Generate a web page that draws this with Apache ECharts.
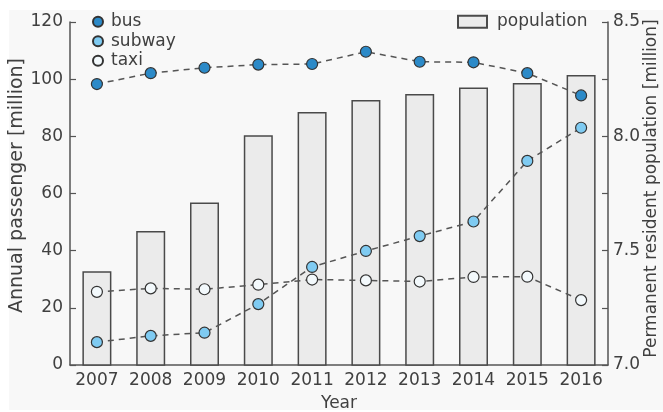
<!DOCTYPE html>
<html>
<head>
<meta charset="utf-8">
<script src="https://cdn.jsdelivr.net/npm/echarts@6/dist/echarts.min.js"></script>
<style>
  html, body { margin: 0; padding: 0; background: #ffffff; }
  #panel { position: absolute; left: 9px; top: 10px; width: 654px; height: 400px; background: #f8f8f8; }
  #chart { position: absolute; left: 0; top: 0; width: 663px; height: 412px; }
</style>
</head>
<body>
<div id="panel"></div>
<div id="chart"></div>
<script>
// Yearly ridership (million passengers) and resident population (million)
const years = ['2007', '2008', '2009', '2010', '2011', '2012', '2013', '2014', '2015', '2016'];
const bus = [98.3, 102.1, 104.0, 105.1, 105.3, 109.6, 106.1, 105.9, 102.1, 94.3];
const subway = [8.0, 10.2, 11.3, 21.3, 34.3, 39.9, 45.1, 50.2, 71.4, 83.0];
const taxi = [25.6, 26.8, 26.5, 28.1, 29.9, 29.6, 29.2, 30.8, 30.9, 22.7];
const population = [7.41, 7.586, 7.711, 8.005, 8.106, 8.159, 8.185, 8.214, 8.233, 8.268];

const FONT = 'DejaVu Sans';
const FS = 17;
const TXT = '#404040';
const AX = '#555555';

const chart = echarts.init(document.getElementById('chart'));

function lineSeries(name, data, color) {
  return {
    name: name,
    type: 'line',
    yAxisIndex: 0,
    data: data,
    symbol: 'circle',
    symbolSize: 11,
    z: 5,
    itemStyle: { color: color, borderColor: '#333333', borderWidth: 1.2 },
    lineStyle: { color: '#555555', width: 1.5, type: [6, 5] }
  };
}

chart.setOption({
  animation: false,
  backgroundColor: 'transparent',
  textStyle: { fontFamily: FONT },
  grid: { left: 70, right: 55, top: 22, bottom: 47, outerBoundsMode: 'none', containLabel: false },
  legend: [
    {
      data: ['bus', 'subway', 'taxi'],
      orient: 'vertical',
      left: 92,
      top: 12,
      padding: 0,
      icon: 'circle',
      itemWidth: 10,
      itemHeight: 10,
      itemGap: 0,
      textStyle: { fontFamily: FONT, fontSize: FS, color: TXT, lineHeight: 19.5, padding: [0, 0, 0, 3] }
    },
    {
      data: ['population'],
      left: 457,
      top: 12,
      padding: 0,
      icon: 'rect',
      itemWidth: 29,
      itemHeight: 12,
      textStyle: { fontFamily: FONT, fontSize: FS, color: TXT, lineHeight: 19.5, padding: [0, 0, 0, 5] }
    }
  ],
  xAxis: {
    type: 'category',
    data: years,
    name: 'Year',
    nameLocation: 'middle',
    nameGap: 30,
    nameMoveOverlap: false,
    nameTextStyle: { fontFamily: FONT, fontSize: FS, color: TXT },
    axisLine: { lineStyle: { color: AX, width: 1.5 } },
    axisTick: { inside: true, alignWithLabel: true, length: 5, lineStyle: { color: AX, width: 1.2 } },
    axisLabel: { interval: 0, fontFamily: FONT, fontSize: FS, color: TXT, margin: 7 }
  },
  yAxis: [
    {
      type: 'value',
      min: 0,
      max: 120,
      interval: 20,
      name: 'Annual passenger [million]',
      nameLocation: 'middle',
      nameGap: 43,
      nameMoveOverlap: false,
      nameTextStyle: { fontFamily: FONT, fontSize: 19, color: TXT, padding: [0, 0, 0, 16] },
      axisLine: { show: true, lineStyle: { color: AX, width: 1.5 } },
      axisTick: { show: true, inside: true, length: 6, lineStyle: { color: AX, width: 1.2 } },
      axisLabel: { fontFamily: FONT, fontSize: FS, color: TXT, margin: 7 },
      splitLine: { show: false }
    },
    {
      type: 'value',
      min: 7,
      max: 8.5,
      interval: 0.25,
      position: 'right',
      name: 'Permanent resident population [million]',
      nameLocation: 'middle',
      nameGap: 35,
      nameMoveOverlap: false,
      nameTextStyle: { fontFamily: FONT, fontSize: FS, color: TXT, padding: [0, 0, 0, 10] },
      axisLine: { show: true, lineStyle: { color: AX, width: 1.5 } },
      axisTick: { show: true, inside: true, length: 6, lineStyle: { color: AX, width: 1.2 } },
      axisLabel: {
        fontFamily: FONT, fontSize: FS, color: TXT, margin: 5,
        formatter: function (v) {
          return Math.abs(v * 2 - Math.round(v * 2)) < 1e-6 ? v.toFixed(1) : '';
        }
      },
      splitLine: { show: false }
    }
  ],
  series: [
    {
      name: 'population',
      type: 'bar',
      yAxisIndex: 1,
      data: population,
      barWidth: 29,
      z: 2,
      itemStyle: { color: '#ebebeb', borderColor: '#4a4a4a', borderWidth: 1.5 }
    },
    lineSeries('bus', bus, '#2c8ac8'),
    lineSeries('subway', subway, '#7fcbf2'),
    lineSeries('taxi', taxi, '#f3f9fc')
  ]
});
</script>
</body>
</html>
